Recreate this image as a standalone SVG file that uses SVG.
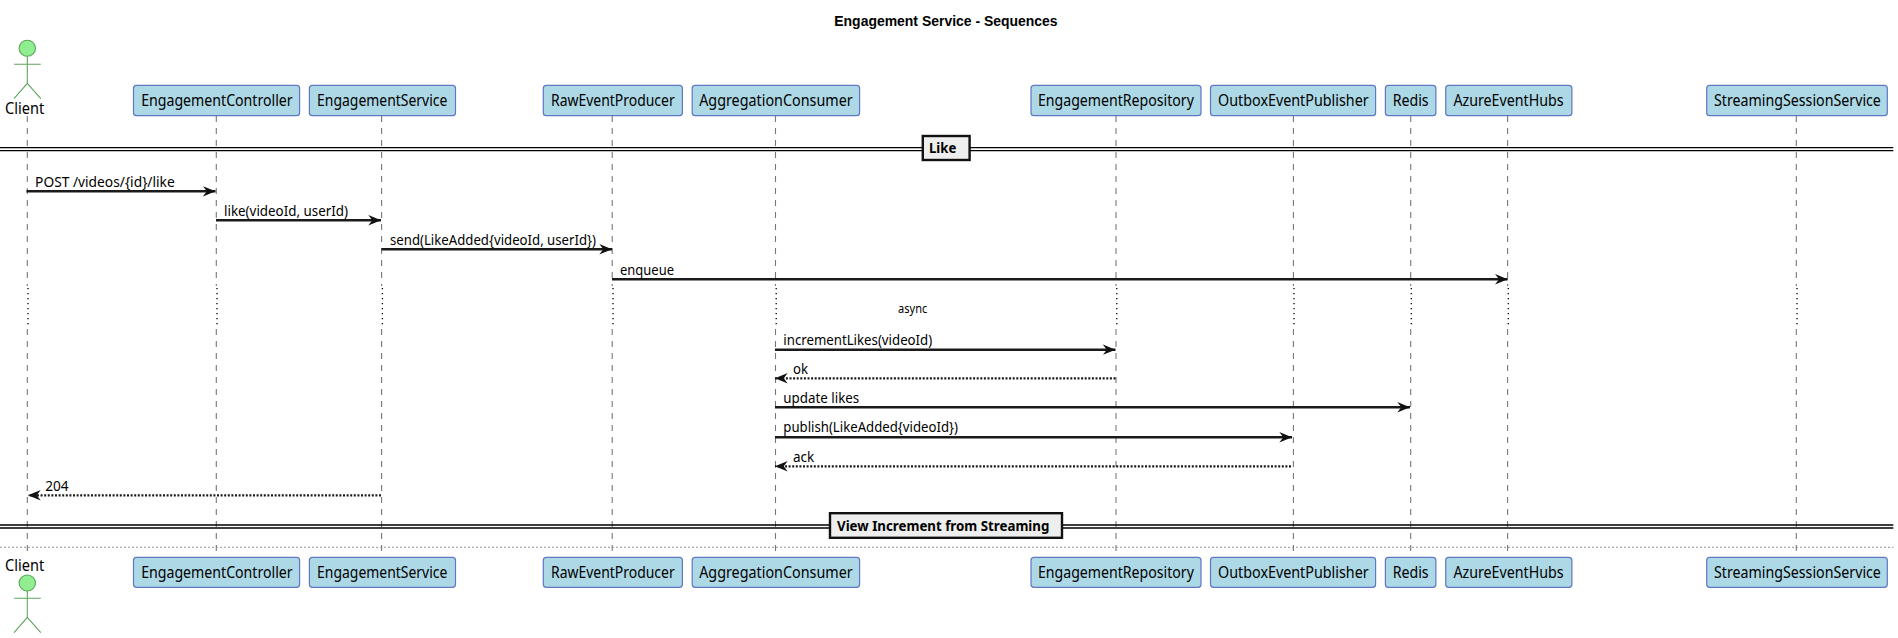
<svg xmlns="http://www.w3.org/2000/svg" width="1898" height="638" viewBox="0 0 1898 638">
<style>
text{font-family:"Noto Sans","DejaVu Sans",sans-serif;fill:#000}
.n{font-size:15.8px}
.m{font-size:14.3px}
.s{font-size:12px}
.b{font-family:"Noto Sans","DejaVu Sans",sans-serif;font-weight:700;font-size:14px}
.t{font-family:"Liberation Sans",Arial,sans-serif;font-weight:700;font-size:14.6px}
.box{fill:#ADD8E6;stroke:#5F77C4;stroke-width:1.2}
.head{fill:#90EE90;stroke:#5FA55F;stroke-width:1.1}
.limb{fill:none;stroke:#5FA55F;stroke-width:1.1}
.life{fill:none;stroke:#777;stroke-width:1.1;stroke-dasharray:6 6}
.gap{fill:none;stroke:#000;stroke-width:1.3;stroke-dasharray:1.3 3.7}
.arrow{fill:none;stroke:#1a1a1a;stroke-width:2.4;marker-end:url(#ah)}
.ret{fill:none;stroke:#1a1a1a;stroke-width:2.2;stroke-dasharray:2 1.6;marker-end:url(#ah)}
.dbl{fill:none;stroke:#000;stroke-width:1.3}
.sep{fill:#EEEEEE;stroke:#111;stroke-width:2.4}
.end{fill:none;stroke:#888;stroke-width:.9;stroke-dasharray:2 2}
</style>
<defs>
<marker id="ah" markerUnits="userSpaceOnUse" markerWidth="15" markerHeight="14" refX="12.7" refY="6" orient="auto">
<path d="M0 .8 L12.7 6 L0 11.2 L4 6 Z" fill="#111"/>
</marker>
</defs>
<text class="t" x="834.3" y="26" textLength="223.3" lengthAdjust="spacingAndGlyphs">Engagement Service - Sequences</text>
<g id="lifelines">
<path class="life" d="M27.3 116V286M27.3 329V552M216.3 116V286M216.3 329V552M381.6 116V286M381.6 329V552M612.2 116V286M612.2 329V552M775.5 116V286M775.5 329V552M1116 116V286M1116 329V552M1293.4 116V286M1293.4 329V552M1410.7 116V286M1410.7 329V552M1507.6 116V286M1507.6 329V552M1796.3 116V286M1796.3 329V552"/>
<path class="gap" d="M28 288V325M217 288V325M382.4 288V325M613 288V325M776.2 288V325M1116.8 288V325M1294 288V325M1411.3 288V325M1508.3 288V325M1797 288V325"/>
</g>
<g id="dividers">
<path class="dbl" d="M0 147.7H1893.3M0 150.7H1893.3M0 525H1893.3M0 528H1893.3"/>
<path class="end" d="M0 547.3H1893.3"/>
</g>
<g id="connectors">
<line class="arrow" x1="26.5" y1="191.3" x2="215.5" y2="191.3"/>
<line class="arrow" x1="216" y1="220.3" x2="381" y2="220.3"/>
<line class="arrow" x1="381.5" y1="249.3" x2="612" y2="249.3"/>
<line class="arrow" x1="612" y1="279.3" x2="1507.7" y2="279.3"/>
<line class="arrow" x1="775" y1="349.7" x2="1115.5" y2="349.7"/>
<line class="ret" x1="1115.5" y1="378.3" x2="775" y2="378.3"/>
<line class="arrow" x1="775" y1="407.3" x2="1410" y2="407.3"/>
<line class="arrow" x1="775" y1="437.3" x2="1292" y2="437.3"/>
<line class="ret" x1="1291" y1="466.3" x2="775" y2="466.3"/>
<line class="ret" x1="381" y1="495.3" x2="28" y2="495.3"/>
</g>
<g id="labels">
<text class="m" x="35.1" y="186.5" textLength="139.6" lengthAdjust="spacingAndGlyphs">POST /videos/{id}/like</text>
<text class="m" x="224" y="216" textLength="124" lengthAdjust="spacingAndGlyphs">like(videoId, userId)</text>
<text class="m" x="390" y="245" textLength="206" lengthAdjust="spacingAndGlyphs">send(LikeAdded{videoId, userId})</text>
<text class="m" x="620" y="274.5" textLength="54" lengthAdjust="spacingAndGlyphs">enqueue</text>
<text class="s" x="898" y="312.5" textLength="29.3" lengthAdjust="spacingAndGlyphs">async</text>
<text class="m" x="783.3" y="344.7" textLength="148.9" lengthAdjust="spacingAndGlyphs">incrementLikes(videoId)</text>
<text class="m" x="793" y="373.7" textLength="15" lengthAdjust="spacingAndGlyphs">ok</text>
<text class="m" x="783.3" y="402.7" textLength="75.9" lengthAdjust="spacingAndGlyphs">update likes</text>
<text class="m" x="783.3" y="432" textLength="174.7" lengthAdjust="spacingAndGlyphs">publish(LikeAdded{videoId})</text>
<text class="m" x="793" y="461.7" textLength="21.3" lengthAdjust="spacingAndGlyphs">ack</text>
<text class="m" x="45.3" y="490.7" textLength="23.3" lengthAdjust="spacingAndGlyphs">204</text>
</g>
<g id="sep-like">
<rect class="sep" x="922.8" y="136" width="46.8" height="24"/>
<text class="b" x="929" y="153" textLength="27.3" lengthAdjust="spacingAndGlyphs">Like</text>
</g>
<g id="sep-view">
<rect class="sep" x="830" y="513.2" width="232" height="24.6"/>
<text class="b" x="837" y="530.5" textLength="212.4" lengthAdjust="spacingAndGlyphs">View Increment from Streaming</text>
</g>
<g id="Client">
<ellipse class="head" cx="27.3" cy="48.3" rx="8.2" ry="8"/>
<path class="limb" d="M27.3 56.3V83.3M14 64.3H40.8M14 98.7L27.3 83.3L40.8 98.7"/>
<text class="n" x="5" y="114" textLength="39.2" lengthAdjust="spacingAndGlyphs">Client</text>
<ellipse class="head" cx="27.3" cy="583" rx="8.2" ry="8"/>
<path class="limb" d="M27.3 591V617.3M14 598.3H40.8M14 632.7L27.3 617.3L40.8 632.7"/>
<text class="n" x="5" y="571" textLength="39.2" lengthAdjust="spacingAndGlyphs">Client</text>
</g>
<g id="EngagementController">
<rect class="box" x="133.5" y="85.3" width="166.1" height="30.4" rx="3"/>
<text class="n" x="141.2" y="106" textLength="151.5" lengthAdjust="spacingAndGlyphs">EngagementController</text>
<rect class="box" x="133.5" y="557.3" width="166.1" height="30" rx="3"/>
<text class="n" x="141.2" y="578" textLength="151.5" lengthAdjust="spacingAndGlyphs">EngagementController</text>
</g>
<g id="EngagementService">
<rect class="box" x="309.4" y="85.3" width="146.1" height="30.4" rx="3"/>
<text class="n" x="317.1" y="106" textLength="130.2" lengthAdjust="spacingAndGlyphs">EngagementService</text>
<rect class="box" x="309.4" y="557.3" width="146.1" height="30" rx="3"/>
<text class="n" x="317.1" y="578" textLength="130.2" lengthAdjust="spacingAndGlyphs">EngagementService</text>
</g>
<g id="RawEventProducer">
<rect class="box" x="543.3" y="85.3" width="139.1" height="30.4" rx="3"/>
<text class="n" x="551" y="106" textLength="123.7" lengthAdjust="spacingAndGlyphs">RawEventProducer</text>
<rect class="box" x="543.3" y="557.3" width="139.1" height="30" rx="3"/>
<text class="n" x="551" y="578" textLength="123.7" lengthAdjust="spacingAndGlyphs">RawEventProducer</text>
</g>
<g id="AggregationConsumer">
<rect class="box" x="692.2" y="85.3" width="167.4" height="30.4" rx="3"/>
<text class="n" x="699.2" y="106" textLength="153.5" lengthAdjust="spacingAndGlyphs">AggregationConsumer</text>
<rect class="box" x="692.2" y="557.3" width="167.4" height="30" rx="3"/>
<text class="n" x="699.2" y="578" textLength="153.5" lengthAdjust="spacingAndGlyphs">AggregationConsumer</text>
</g>
<g id="EngagementRepository">
<rect class="box" x="1031" y="85.3" width="170" height="30.4" rx="3"/>
<text class="n" x="1038" y="106" textLength="155.9" lengthAdjust="spacingAndGlyphs">EngagementRepository</text>
<rect class="box" x="1031" y="557.3" width="170" height="30" rx="3"/>
<text class="n" x="1038" y="578" textLength="155.9" lengthAdjust="spacingAndGlyphs">EngagementRepository</text>
</g>
<g id="OutboxEventPublisher">
<rect class="box" x="1210.5" y="85.3" width="165.1" height="30.4" rx="3"/>
<text class="n" x="1218" y="106" textLength="150.7" lengthAdjust="spacingAndGlyphs">OutboxEventPublisher</text>
<rect class="box" x="1210.5" y="557.3" width="165.1" height="30" rx="3"/>
<text class="n" x="1218" y="578" textLength="150.7" lengthAdjust="spacingAndGlyphs">OutboxEventPublisher</text>
</g>
<g id="Redis">
<rect class="box" x="1385.4" y="85.3" width="50.5" height="30.4" rx="3"/>
<text class="n" x="1392.7" y="106" textLength="35.9" lengthAdjust="spacingAndGlyphs">Redis</text>
<rect class="box" x="1385.4" y="557.3" width="50.5" height="30" rx="3"/>
<text class="n" x="1392.7" y="578" textLength="35.9" lengthAdjust="spacingAndGlyphs">Redis</text>
</g>
<g id="AzureEventHubs">
<rect class="box" x="1445.7" y="85.3" width="126.2" height="30.4" rx="3"/>
<text class="n" x="1453.4" y="106" textLength="110.3" lengthAdjust="spacingAndGlyphs">AzureEventHubs</text>
<rect class="box" x="1445.7" y="557.3" width="126.2" height="30" rx="3"/>
<text class="n" x="1453.4" y="578" textLength="110.3" lengthAdjust="spacingAndGlyphs">AzureEventHubs</text>
</g>
<g id="StreamingSessionService">
<rect class="box" x="1706.7" y="85.3" width="180.6" height="30.4" rx="3"/>
<text class="n" x="1714" y="106" textLength="166.9" lengthAdjust="spacingAndGlyphs">StreamingSessionService</text>
<rect class="box" x="1706.7" y="557.3" width="180.6" height="30" rx="3"/>
<text class="n" x="1714" y="578" textLength="166.9" lengthAdjust="spacingAndGlyphs">StreamingSessionService</text>
</g>
</svg>
